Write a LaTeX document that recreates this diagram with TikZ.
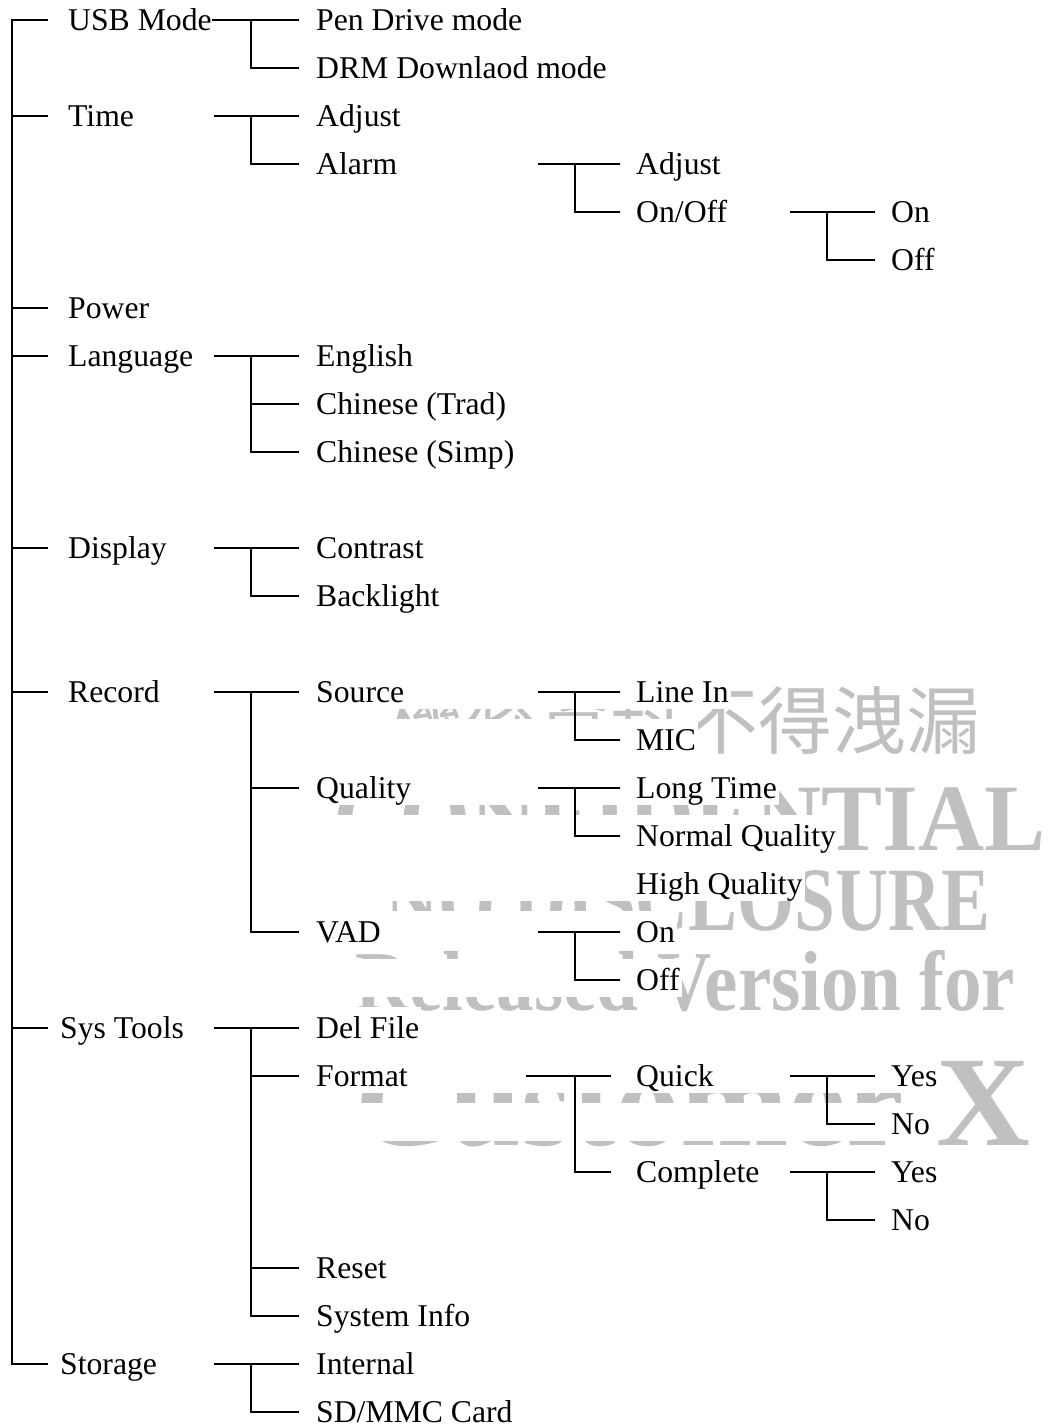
\documentclass[tikz,border=0pt]{standalone}
\usepackage{fontspec}
\usepackage{graphicx}
\setmainfont{Liberation Serif}
\newfontfamily\cjkfont{Noto Sans CJK TC}
\usetikzlibrary{calc}
\pgfdeclarelayer{wm}
\pgfdeclarelayer{mask}
\pgfsetlayers{wm,mask,main}
\definecolor{wmgray}{RGB}{192,192,192}
\newcommand\wmask[2]{\fill[white] (300,#1-21) rectangle ($(#2.east)+(2,17)$);}
\begin{document}
\begin{tikzpicture}[x=1pt,y=-1pt,
  t/.style={anchor=west, inner sep=0pt, text height=21pt, text depth=0pt, font=\fontsize{31.7}{38}\selectfont},
  conn/.style={line width=1.7pt},
  wm/.style={anchor=base west, inner sep=0pt, text=wmgray}]
\useasboundingbox (0,0) rectangle (1048,1426);
% ---------- level 0
\node[t] (usb)   at (68,20)   {USB Mode};
\node[t] (time)  at (68,116)  {Time};
\node[t] (power) at (68,308)  {Power};
\node[t] (lang)  at (68,356)  {Language};
\node[t] (disp)  at (68,548)  {Display};
\node[t] (rec)   at (68,692)  {Record};
\node[t] (sys)   at (60,1028) {Sys Tools};
\node[t] (stor)  at (60,1364) {Storage};
% ---------- level 1
\node[t] (pen)   at (316,20)   {Pen Drive mode};
\node[t] (drm)   at (316,68)   {DRM Downlaod mode};
\node[t] (tadj)  at (316,116)  {Adjust};
\node[t] (alarm) at (316,164)  {Alarm};
\node[t] (eng)   at (316,356)  {English};
\node[t] (trad)  at (316,404)  {Chinese (Trad)};
\node[t] (simp)  at (316,452)  {Chinese (Simp)};
\node[t] (contr) at (316,548)  {Contrast};
\node[t] (back)  at (316,596)  {Backlight};
\node[t] (src)   at (316,692)  {Source};
\node[t] (qual)  at (316,788)  {Quality};
\node[t] (vad)   at (316,932)  {VAD};
\node[t] (del)   at (316,1028) {Del File};
\node[t] (fmt)   at (316,1076) {Format};
\node[t] (reset) at (316,1268) {Reset};
\node[t] (sinfo) at (316,1316) {System Info};
\node[t] (intl)  at (316,1364) {Internal};
\node[t] (sd)    at (316,1412) {SD/MMC Card};
% ---------- level 2
\node[t] (aadj)   at (636,164)  {Adjust};
\node[t] (onoff)  at (636,212)  {On/Off};
\node[t] (linein) at (636,692)  {Line In};
\node[t] (mic)    at (636,740)  {MIC};
\node[t] (long)   at (636,788)  {Long Time};
\node[t] (normal) at (636,836)  {Normal Quality};
\node[t] (high)   at (636,884)  {High Quality};
\node[t] (von)    at (636,932)  {On};
\node[t] (voff)   at (636,980)  {Off};
\node[t] (quick)  at (636,1076) {Quick};
\node[t] (compl)  at (636,1172) {Complete};
% ---------- level 3
\node[t] (aon)  at (891,212)  {On};
\node[t] (aoff) at (891,260)  {Off};
\node[t] (qyes) at (891,1076) {Yes};
\node[t] (qno)  at (891,1124) {No};
\node[t] (cyes) at (891,1172) {Yes};
\node[t] (cno)  at (891,1220) {No};
% ---------- watermark
\begin{pgfonlayer}{wm}
\fill[white] (0,0) rectangle (1048,1426);
\node[wm] (wm1) at (389,748)  {\resizebox{591pt}{!}{\cjkfont 機密資料不得洩漏}};
\node[wm] (wm2) at (333,850)  {\resizebox{712pt}{63pt}{\bfseries CONFIDENTIAL}};
\node[wm] (wm3) at (385,930)  {\resizebox{605pt}{60pt}{\bfseries NO DISCLOSURE}};
\node[wm] (wm4) at (355,1010) {\resizebox{660pt}{60pt}{\bfseries Released Version for}};
\node[wm] (wm5) at (355,1145) {\resizebox{675pt}{85pt}{\bfseries Customer X}};
\end{pgfonlayer}
% ---------- masks
\begin{pgfonlayer}{mask}
\wmask{644}{back}
\wmask{692}{linein}
\wmask{740}{mic}
\wmask{788}{long}
\wmask{836}{normal}
\wmask{884}{high}
\wmask{932}{von}
\wmask{980}{voff}
\wmask{1028}{del}
\wmask{1076}{qyes}
\wmask{1124}{qno}
\wmask{1172}{cyes}
\wmask{1220}{cno}
\end{pgfonlayer}
% ---------- level 0 connectors
\coordinate (L0) at (12,0);
\draw[conn] ([xshift=-20pt]usb.west) -| (L0 |- stor.west) -- ([xshift=-12pt]stor.west);
\foreach \n in {time,power,lang,disp,rec}
  \draw[conn] (L0 |- \n.west) -- ([xshift=-20pt]\n.west);
\draw[conn] (L0 |- sys.west) -- ([xshift=-12pt]sys.west);
% ---------- level 1 connectors
\draw[conn] (usb.east) -- ([xshift=-17pt]pen.west);
\draw[conn] ([xshift=-65pt]pen.west) |- ([xshift=-17pt]drm.west);
\foreach \a/\b in {tadj/alarm, eng/simp, contr/back, src/vad, del/sinfo, intl/sd} {
  \draw[conn] ([xshift=-102pt]\a.west) -- ([xshift=-17pt]\a.west);
  \draw[conn] ([xshift=-65pt]\a.west) |- ([xshift=-17pt]\b.west);
}
\foreach \n in {trad,qual,fmt,reset}
  \draw[conn] ([xshift=-65pt]\n.west) -- ([xshift=-17pt]\n.west);
% ---------- level 2 connectors
\foreach \a/\b in {aadj/onoff, linein/mic, long/normal, von/voff} {
  \draw[conn] ([xshift=-98pt]\a.west) -- ([xshift=-16pt]\a.west);
  \draw[conn] ([xshift=-61pt]\a.west) |- ([xshift=-16pt]\b.west);
}
\draw[conn] ([xshift=-110pt]quick.west) -- ([xshift=-25pt]quick.west);
\draw[conn] ([xshift=-61pt]quick.west) |- ([xshift=-25pt]compl.west);
% ---------- level 3 connectors
\foreach \a/\b in {aon/aoff, qyes/qno, cyes/cno} {
  \draw[conn] ([xshift=-101pt]\a.west) -- ([xshift=-16pt]\a.west);
  \draw[conn] ([xshift=-64pt]\a.west) |- ([xshift=-16pt]\b.west);
}
\end{tikzpicture}
\end{document}
